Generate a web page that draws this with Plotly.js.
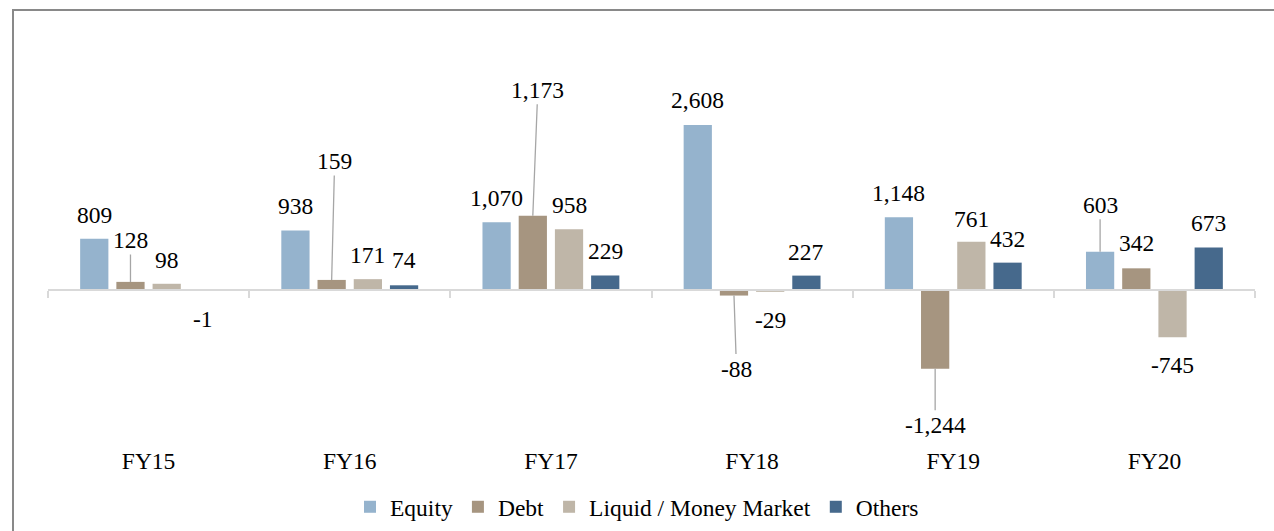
<!DOCTYPE html>
<html>
<head>
<meta charset="utf-8">
<script src="https://cdn.plot.ly/plotly-3.0.1.min.js"></script>
<style>
  html, body { margin: 0; padding: 0; background: #fff; overflow: hidden; }
  #wrap { position: relative; width: 1274px; height: 531px; }
  #chart { width: 1274px; height: 531px; }
  #frame { position: absolute; left: 12px; top: 9px; width: 1400px; height: 700px;
           border: 2px solid #898989; pointer-events: none; box-sizing: border-box; }
</style>
</head>
<body>
<div id="wrap">
  <div id="chart"></div>
  <div id="frame"></div>
</div>
<script>
// ---- data ----
const categories = ['FY15', 'FY16', 'FY17', 'FY18', 'FY19', 'FY20'];
const seriesNames = ['Equity', 'Debt', 'Liquid / Money Market', 'Others'];
const equity = [809, 938, 1070, 2608, 1148, 603];
const debt   = [128, 159, 1173, -88, -1244, 342];
const liquid = [98, 171, 958, -29, 761, -745];
const others = [-1, 74, 229, 227, 432, 673];

// ---- styles / label placement (pixels) ----
const colors = ['#95B3CD', '#A69580', '#BFB6A8', '#46698C'];
const labelDy = [
  [-24, -25, -24, -25, -24, -47],
  [-42, -119, -126, 73, 56, -25],
  [-24, -24, -24, 28, -23, 28],
  [29, -25, -24, -24, -24, -24]
];
const labelDx = [
  [0, 0, 0, 0, 0, 0],
  [0, 3, 5, 2.5, 0, 0],
  [0, 0, 0, 0, 0, 0],
  [0, 0, 0, 0, 0, 0]
];
const leader = [
  [false, false, false, false, false, true],
  [true, true, true, true, true, false],
  [false, false, false, false, false, false],
  [false, false, false, false, false, false]
];

const FONT = 'Liberation Serif, Times New Roman, serif';
const FS = 23.5;
const bargap = 0.28, bargroupgap = 0.22;
const allSeries = [equity, debt, liquid, others];

const traces = allSeries.map((vals, s) => ({
  type: 'bar',
  name: seriesNames[s],
  x: categories,
  y: vals,
  marker: { color: colors[s], line: { width: 0 } },
  hoverinfo: 'skip'
}));

const nS = allSeries.length;
const slot = (1 - bargap) / nS;
const annotations = [];
allSeries.forEach((vals, s) => {
  vals.forEach((v, i) => {
    annotations.push({
      x: i - (1 - bargap) / 2 + (s + 0.5) * slot,
      y: v,
      xref: 'x', yref: 'y',
      text: v.toLocaleString('en-US'),
      showarrow: true,
      arrowhead: 0,
      arrowwidth: 1.3,
      arrowcolor: leader[s][i] ? '#A6A6A6' : 'rgba(0,0,0,0)',
      standoff: 0,
      ax: labelDx[s][i],
      ay: labelDy[s][i],
      font: { family: FONT, size: FS, color: '#000' }
    });
  });
});

// Range chosen so that value 0 sits on the category axis line
const yMin = -2433, yMax = 4107;
const zeroFrac = (0 - yMin) / (yMax - yMin);
const boundaryTicks = categories.map((_, i) => i - 0.5).concat([categories.length - 0.5]);

const layout = {
  width: 1274, height: 531,
  margin: { l: 48, r: 19, t: 30, b: 87 },
  paper_bgcolor: 'rgba(0,0,0,0)',
  plot_bgcolor: 'rgba(0,0,0,0)',
  barmode: 'group',
  bargap: bargap,
  bargroupgap: bargroupgap,
  font: { family: FONT, size: FS, color: '#000' },
  showlegend: true,
  legend: {
    orientation: 'h',
    xref: 'container', yref: 'container',
    x: 0.5, xanchor: 'center',
    y: 1 - 507 / 531, yanchor: 'middle',
    font: { family: FONT, size: FS, color: '#000' },
    itemwidth: 30,
    tracegroupgap: 0
  },
  xaxis: {
    type: 'category',
    range: [-0.5, categories.length - 0.5],
    showline: false, showgrid: false, zeroline: false,
    ticks: '', tickfont: { family: FONT, size: FS, color: '#000' }
  },
  xaxis2: {
    overlaying: 'x',
    anchor: 'free',
    position: zeroFrac,
    type: 'linear',
    range: [-0.5, categories.length - 0.5],
    showline: true, linecolor: '#D9D9D9', linewidth: 2,
    showgrid: false, zeroline: false,
    tickmode: 'array', tickvals: boundaryTicks,
    ticks: 'outside', ticklen: 7, tickwidth: 2, tickcolor: '#D9D9D9',
    showticklabels: false
  },
  yaxis: {
    range: [yMin, yMax],
    showline: false, showgrid: false, zeroline: false,
    showticklabels: false, ticks: ''
  },
  annotations: annotations
};

// dummy trace to activate xaxis2 (no visible marks)
traces.push({
  type: 'scatter', x: [], y: [], xaxis: 'x2', yaxis: 'y',
  showlegend: false, hoverinfo: 'skip'
});

Plotly.newPlot('chart', traces, layout, { staticPlot: true, displayModeBar: false });
</script>
</body>
</html>
